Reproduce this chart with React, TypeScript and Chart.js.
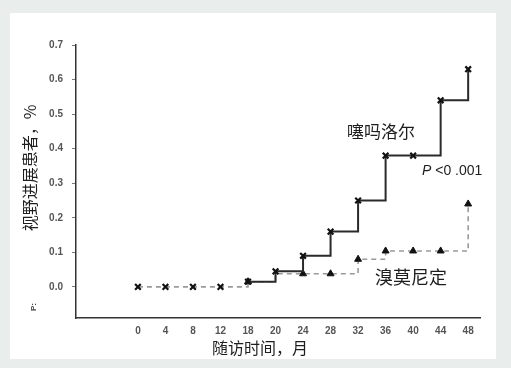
import React, { useEffect, useRef } from 'react';
import { Chart, registerables } from 'chart.js';

Chart.register(...registerables);

// Follow-up months (category labels, evenly spaced on the axis)
const months = ['0', '4', '8', '12', '18', '20', '24', '28', '32', '36', '40', '44', '48'];
// 噻吗洛尔 (timolol) – % of patients with visual field progression
const timolol = [0, 0, 0, 0, 0.015, 0.045, 0.09, 0.16, 0.25, 0.38, 0.38, 0.54, 0.63];
// 溴莫尼定 (brimonidine)
const brimonidine = [0, 0, 0, 0, 0.015, 0.038, 0.038, 0.038, 0.08, 0.104, 0.104, 0.104, 0.24];
const brimonidineShown = [false, false, false, false, true, false, true, true, true, true, true, true, true];

const yTickValues = [0, 0.1, 0.2, 0.3, 0.4, 0.5, 0.6, 0.7];

const CJK = '"Noto Sans CJK SC", "Noto Sans", sans-serif';
const LATIN = 'Arial, "Liberation Sans", sans-serif';

export default function App() {
  const ref = useRef<HTMLCanvasElement>(null);

  useEffect(() => {
    if (!ref.current) return;

    const framePlugin = {
      id: 'frame',
      beforeDraw(c: any) {
        const ctx = c.ctx;
        ctx.save();
        ctx.fillStyle = '#e9eeed';
        ctx.fillRect(0, 0, c.width, c.height);
        ctx.fillStyle = '#ffffff';
        ctx.fillRect(10, 13, 486, 346);
        ctx.restore();
      },
    };

    const textPlugin = {
      id: 'texts',
      afterDraw(c: any) {
        const ctx = c.ctx;
        ctx.save();
        ctx.fillStyle = '#1e1e1e';
        ctx.textBaseline = 'middle';
        ctx.textAlign = 'left';
        ctx.font = `17px ${CJK}`;
        ctx.fillText('噻吗洛尔', 347, 132);
        ctx.font = `18px ${CJK}`;
        ctx.fillText('溴莫尼定', 375, 277);
        ctx.font = `italic 14px ${LATIN}`;
        ctx.fillText('P', 422, 171);
        const pw = ctx.measureText('P').width;
        ctx.font = `14px ${LATIN}`;
        ctx.fillText(' <0 .001', 422 + pw, 171);

        // axis titles
        ctx.font = `16px ${CJK}`;
        ctx.textAlign = 'center';
        ctx.fillText('随访时间，月', 260, 348);
        ctx.save();
        ctx.translate(30, 168);
        ctx.rotate(-Math.PI / 2);
        ctx.fillText('视野进展患者，%', 0, 0);
        ctx.restore();

        ctx.save();
        ctx.translate(34, 307);
        ctx.rotate(-Math.PI / 2);
        ctx.font = `bold 8px ${LATIN}`;
        ctx.fillStyle = '#444';
        ctx.fillText('P:', 0, 0);
        ctx.restore();
        ctx.restore();
      },
    };

    const chart = new Chart(ref.current, {
      type: 'line',
      data: {
        datasets: [
          {
            label: '噻吗洛尔',
            data: months.map((_m, i) => ({ x: i, y: timolol[i] })),
            stepped: 'before',
            borderColor: '#2a2a2a',
            borderWidth: 2,
            pointStyle: 'crossRot',
            pointRadius: 4,
            pointBorderWidth: 2.2,
            pointBorderColor: '#111',
            pointBackgroundColor: '#111',
            segment: {
              borderColor: (ctx: any) => (ctx.p0DataIndex < 4 ? 'rgba(0,0,0,0)' : '#2a2a2a'),
            },
            order: 0,
          },
          {
            label: '溴莫尼定',
            data: months.map((_m, i) => ({ x: i, y: brimonidine[i] })),
            stepped: 'before',
            borderColor: '#9a9a9a',
            borderWidth: 1.6,
            borderDash: [5, 4],
            pointStyle: 'triangle',
            pointRadius: brimonidineShown.map((s) => (s ? 4 : 0)),
            pointBorderWidth: 1,
            pointBorderColor: '#111',
            pointBackgroundColor: '#111',
            order: 1,
          },
        ],
      },
      options: {
        responsive: false,
        animation: false,
        devicePixelRatio: 1,
        layout: { padding: { top: 45, right: 31, left: 0, bottom: 0 } },
        plugins: { legend: { display: false }, tooltip: { enabled: false } },
        scales: {
          x: {
            type: 'linear',
            min: -2.25,
            max: 12.43,
            afterBuildTicks: (s: any) => {
              s.ticks = months.map((_m, i) => ({ value: i }));
            },
            afterFit: (s: any) => {
              s.height = 50;
            },
            grid: { display: true, drawOnChartArea: false, drawTicks: false },
            border: { display: true, color: '#333', width: 1.5 },
            ticks: {
              padding: 7,
              color: '#555',
              autoSkip: false,
              maxRotation: 0,
              font: { family: LATIN, size: 10, weight: 'bold' },
              callback: (v: any) => months[Math.round(Number(v))],
            },
          },
          y: {
            type: 'linear',
            min: -0.09,
            max: 0.7,
            afterBuildTicks: (s: any) => {
              s.ticks = yTickValues.map((v) => ({ value: v }));
            },
            afterFit: (s: any) => {
              s.width = 76;
            },
            grid: { display: true, drawOnChartArea: false, drawTicks: true, tickLength: 4, color: '#777' },
            border: { display: true, color: '#333', width: 1.5 },
            ticks: {
              padding: 9,
              color: '#555',
              font: { family: LATIN, size: 10, weight: 'bold' },
              callback: (v: any) => Number(v).toFixed(1),
            },
          },
        },
      },
      plugins: [framePlugin, textPlugin],
    } as any);

    return () => chart.destroy();
  }, []);

  return (
    <div style={{ position: 'absolute', left: 0, top: 0, width: 511, height: 368 }}>
      <canvas ref={ref} width={511} height={368} style={{ display: 'block', width: 511, height: 368 }} />
    </div>
  );
}
